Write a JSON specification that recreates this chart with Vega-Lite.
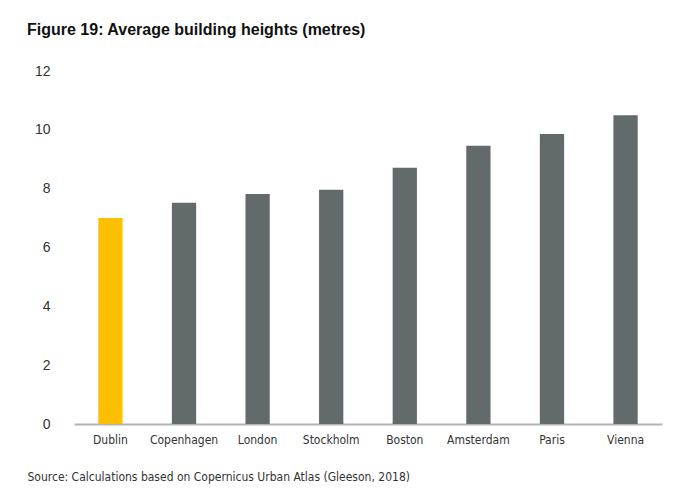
{
  "$schema": "https://vega.github.io/schema/vega-lite/v6.json",
  "autosize": {"type": "none"},
  "width": 588,
  "height": 353,
  "padding": {"left": 74, "top": 71, "right": 38, "bottom": 68},
  "background": "white",
  "title": {
    "text": "Figure 19: Average building heights (metres)",
    "anchor": "start",
    "frame": "group",
    "dx": -47,
    "offset": 26,
    "font": "Liberation Sans",
    "fontSize": 16,
    "fontWeight": "bold",
    "color": "#111111"
  },
  "data": {
    "values": [
      {"city": "Dublin", "height": 7.0},
      {"city": "Copenhagen", "height": 7.52},
      {"city": "London", "height": 7.82},
      {"city": "Stockholm", "height": 7.96},
      {"city": "Boston", "height": 8.71},
      {"city": "Amsterdam", "height": 9.46},
      {"city": "Paris", "height": 9.86},
      {"city": "Vienna", "height": 10.5}
    ]
  },
  "config": {
    "view": {"stroke": null},
    "axis": {"labelFont": "DejaVu Sans Condensed, Liberation Sans, sans-serif", "labelColor": "#333333", "grid": false}
  },
  "mark": {"type": "bar"},
  "encoding": {
    "x": {
      "field": "city",
      "type": "nominal",
      "sort": null,
      "scale": {"paddingInner": 0.67, "paddingOuter": 0.33},
      "axis": {
        "labelAngle": 0,
        "labelFontSize": 12,
        "labelPadding": 10,
        "ticks": false,
        "domainColor": "#b4b4b4",
        "domainWidth": 2,
        "title": "Source: Calculations based on Copernicus Urban Atlas (Gleeson, 2018)",
        "titleFont": "DejaVu Sans Condensed, Liberation Sans, sans-serif",
        "titleFontSize": 12,
        "titleFontWeight": "normal",
        "titleColor": "#333333",
        "titleAnchor": "start",
        "titleAlign": "left",
        "titleX": -47,
        "titleY": 52,
        "titleBaseline": "middle"
      }
    },
    "y": {
      "field": "height",
      "type": "quantitative",
      "scale": {"domain": [0, 12]},
      "axis": {
        "values": [0, 2, 4, 6, 8, 10, 12],
        "labelFont": "Liberation Sans",
        "labelFontSize": 14,
        "labelPadding": 24,
        "ticks": false,
        "domain": false,
        "title": null
      }
    },
    "color": {
      "condition": {"test": "datum.city == 'Dublin'", "value": "#fcc000"},
      "value": "#636a6c"
    }
  }
}
